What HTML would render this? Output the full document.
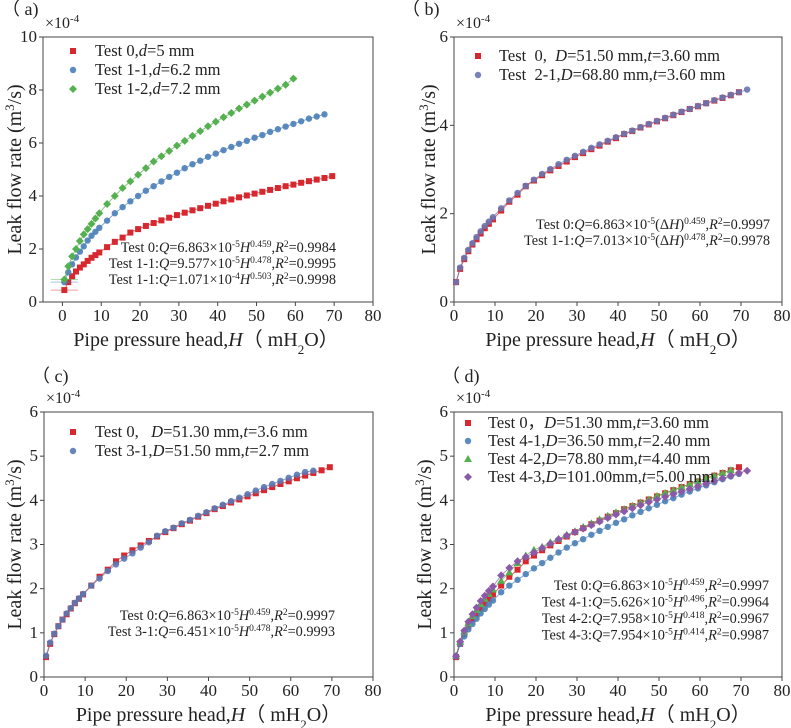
<!DOCTYPE html>
<html><head><meta charset="utf-8">
<style>
html,body{margin:0;padding:0;background:#fff;}
svg{display:block;font-family:"Liberation Serif",serif;}
</style></head>
<body>
<svg id="fig" width="791" height="728" viewBox="0 0 791 728" xmlns="http://www.w3.org/2000/svg"></svg>
<script>
// ---- data (values in units of 1e-4 m^3/s) ----
const H40 = [0.5,1.5,2.5,3.5,4.5,5.5,6.5,7.5,8.5,9.5,11.5,13.5,15.5,17.5,19.5,21.5,23.5,25.5,27.5,29.5,31.5,33.5,35.5,37.5,39.5,41.5,43.5,45.5,47.5,49.5,51.5,53.5,55.5,57.5,59.5,61.5,63.5,65.5,67.5,69.5];
const H39 = [0.5,1.5,2.5,3.5,4.5,5.5,6.5,7.5,8.5,9.5,11.5,13.5,15.5,17.5,19.5,21.5,23.5,25.5,27.5,29.5,31.5,33.5,35.5,37.5,39.5,41.5,43.5,45.5,47.5,49.5,51.5,53.5,55.5,57.5,59.5,61.5,63.5,65.5,67.5];
const H38 = [0.5,1.5,2.5,3.5,4.5,5.5,6.5,7.5,8.5,9.5,11.5,13.5,15.5,17.5,19.5,21.5,23.5,25.5,27.5,29.5,31.5,33.5,35.5,37.5,39.5,41.5,43.5,45.5,47.5,49.5,51.5,53.5,55.5,57.5,59.5,61.5,63.5,65.5];
const H35 = [0.5,1.5,2.5,3.5,4.5,5.5,6.5,7.5,8.5,9.5,11.5,13.5,15.5,17.5,19.5,21.5,23.5,25.5,27.5,29.5,31.5,33.5,35.5,37.5,39.5,41.5,43.5,45.5,47.5,49.5,51.5,53.5,55.5,57.5,59.5];
const H41 = [0.5,1.5,2.5,3.5,4.5,5.5,6.5,7.5,8.5,9.5,11.5,13.5,15.5,17.5,19.5,21.5,23.5,25.5,27.5,29.5,31.5,33.5,35.5,37.5,39.5,41.5,43.5,45.5,47.5,49.5,51.5,53.5,55.5,57.5,59.5,61.5,63.5,65.5,67.5,69.5,71.5];
const test0 = [0.45,0.75,0.97,1.15,1.3,1.42,1.55,1.67,1.77,1.87,2.07,2.27,2.43,2.62,2.75,2.87,2.98,3.08,3.18,3.28,3.37,3.46,3.54,3.63,3.71,3.8,3.87,3.95,4.02,4.09,4.16,4.23,4.3,4.37,4.43,4.5,4.56,4.62,4.68,4.75];
const test1_1 = [0.75,1.12,1.42,1.68,1.9,2.1,2.32,2.5,2.65,2.8,3.07,3.35,3.58,3.8,4.0,4.2,4.37,4.55,4.72,4.88,5.05,5.2,5.33,5.48,5.6,5.73,5.85,5.97,6.08,6.2,6.3,6.42,6.52,6.62,6.72,6.82,6.92,7.0,7.08];
const test1_2 = [0.85,1.35,1.72,2.0,2.3,2.55,2.75,2.95,3.15,3.35,3.7,4.0,4.3,4.55,4.8,5.05,5.3,5.5,5.7,5.9,6.08,6.27,6.45,6.63,6.8,6.97,7.13,7.3,7.45,7.6,7.75,7.9,8.05,8.2,8.43];
const test2_1 = [0.45,0.78,1.0,1.18,1.33,1.47,1.6,1.72,1.82,1.92,2.12,2.3,2.47,2.63,2.77,2.9,3.01,3.12,3.22,3.31,3.4,3.49,3.57,3.65,3.73,3.81,3.88,3.96,4.03,4.1,4.17,4.24,4.31,4.37,4.44,4.5,4.57,4.63,4.69,4.75,4.81];
const test3_1 = [0.48,0.78,0.98,1.15,1.3,1.44,1.56,1.68,1.78,1.88,2.07,2.23,2.4,2.55,2.68,2.8,2.93,3.05,3.2,3.3,3.38,3.48,3.56,3.65,3.73,3.82,3.9,3.98,4.06,4.14,4.22,4.3,4.37,4.44,4.51,4.58,4.64,4.67];
const test4_1 = [0.47,0.75,0.92,1.08,1.2,1.32,1.44,1.54,1.64,1.73,1.92,2.07,2.2,2.33,2.46,2.58,2.7,2.82,2.93,3.03,3.12,3.22,3.31,3.4,3.49,3.57,3.66,3.74,3.82,3.9,3.98,4.05,4.13,4.2,4.27,4.34,4.41,4.48,4.54,4.6];
const test4_2 = [0.48,0.8,1.03,1.22,1.38,1.52,1.65,1.77,1.88,1.98,2.18,2.37,2.58,2.75,2.88,2.95,3.05,3.13,3.22,3.3,3.4,3.48,3.57,3.65,3.73,3.8,3.88,3.95,4.02,4.1,4.17,4.23,4.3,4.37,4.43,4.5,4.56,4.62,4.68];
const test4_3 = [0.47,0.8,1.05,1.25,1.42,1.57,1.72,1.84,1.95,2.05,2.3,2.47,2.62,2.72,2.82,2.92,3.02,3.12,3.2,3.28,3.36,3.44,3.52,3.6,3.68,3.75,3.82,3.89,3.96,4.02,4.08,4.14,4.2,4.26,4.32,4.38,4.44,4.5,4.56,4.62,4.67];
const xTicksA = [0,10,20,30,40,50,60,70,80];
const yTicksA = [0,2,4,6,8,10];
const xTicks = [0,10,20,30,40,50,60,70,80];
const yTicks6 = [0,2,4,6];
const yTicks6b = [0,1,2,3,4,5,6];

const RED="#d6282e", BLUE="#4a80b8", GREEN="#55b04f", PURPLE="#8a5aa8";
const NS="http://www.w3.org/2000/svg";
const svg=document.getElementById('fig');
function mk(tag,attrs,parent){const e=document.createElementNS(NS,tag);for(const k in attrs)e.setAttribute(k,attrs[k]);(parent||svg).appendChild(e);return e;}

function marker(g,shape,cx,cy,color){
  let m;
  if(shape==='sq') m=mk('rect',{x:cx-3,y:cy-3,width:6,height:6,fill:color},g);
  else if(shape==='ci') m=mk('circle',{cx:cx,cy:cy,r:3.2,fill:color,'fill-opacity':0.9},g);
  else if(shape==='di') m=mk('polygon',{points:`${cx},${cy-4} ${cx+4},${cy} ${cx},${cy+4} ${cx-4},${cy}`,fill:color},g);
  else m=mk('polygon',{points:`${cx},${cy-4} ${cx+4},${cy+3} ${cx-4},${cy+3}`,fill:color},g);
  return m;
}

function eqText(g,x,y,parts){
  const t=mk('text',{x:x,y:y,'text-anchor':'end','font-size':14.3,fill:'#222'},g);
  
  
  parts.forEach(p=>{
    const s=mk('tspan',{},t);
    if(p.i) s.setAttribute('font-style','italic');
    if(p.sup){s.setAttribute('baseline-shift','super');s.setAttribute('font-size',9.5);}
    s.textContent=p.t;
  });
}

function panel(cfg){
  const g=mk('g',{});
  
  
  const L=cfg.L,R=cfg.R,T=cfg.T,B=cfg.B;
  const sx=v=>L+(v-cfg.xmin)/(cfg.xmax-cfg.xmin)*(R-L);
  const sy=v=>B-(v-0)/(cfg.ymax)*(B-T);
  const frame=mk('rect',{x:L,y:T,width:R-L,height:B-T,fill:'none',stroke:'#444','stroke-width':1},g);
  
  
  cfg.xt.forEach(v=>{
    mk('line',{x1:sx(v),x2:sx(v),y1:B,y2:B+4,stroke:'#444'},g);
    const t=mk('text',{x:sx(v),y:B+19,'text-anchor':'middle','font-size':17,fill:'#222'},g);
    
    
    t.textContent=v;
  });
  cfg.yt.forEach(v=>{
    mk('line',{x1:L-4,x2:L,y1:sy(v),y2:sy(v),stroke:'#444'},g);
    const t=mk('text',{x:L-6,y:sy(v)+5,'text-anchor':'end','font-size':17,fill:'#222'},g);
    
    
    t.textContent=v;
  });
  const mt=mk('text',{x:L+2,y:T-9,'font-size':16,fill:'#222'},g);
  
  
  mt.innerHTML='×10<tspan baseline-shift="super" font-size="11">-4</tspan>';
  const pl=mk('text',{x:cfg.plx,y:cfg.ply,'font-size':18,fill:'#222'},g);
  
  
  pl.textContent=cfg.label;
  const xt=mk('text',{x:(L+R)/2+(cfg.xmin<0?-2:0),y:B+44,'text-anchor':'middle','font-size':20,fill:'#222'},g);
  
  
  xt.innerHTML='Pipe pressure head,<tspan font-style="italic">H</tspan>（ mH<tspan baseline-shift="sub" font-size="13">2</tspan>O）';
  const cy=(T+B)/2;
  const yt=mk('text',{x:cfg.ytx,y:cy,'text-anchor':'middle','font-size':20,fill:'#222',transform:`rotate(-90 ${cfg.ytx} ${cy})`},g);
  
  
  yt.innerHTML='Leak flow rate (m<tspan baseline-shift="super" font-size="13">3</tspan>/s)';
  cfg.series.forEach(s=>{
    const sg=mk('g',{},g);
    
    
    if(s.err){
      const eb=mk('line',{x1:sx(s.x[0]-3.5),x2:sx(s.x[0]+3.5),y1:sy(s.y[0]),y2:sy(s.y[0]),stroke:s.c,'stroke-opacity':0.45,'stroke-width':1},sg);
      
      
    }
    const pts=s.x.map((h,i)=>sx(h).toFixed(1)+','+sy(s.y[i]).toFixed(1)).join(' ');
    const pl=mk('polyline',{points:pts,fill:'none',stroke:s.c,'stroke-width':1,'stroke-opacity':0.7},sg);
    
    
    s.x.forEach((h,i)=>{
      const m=marker(sg,s.m,sx(h),sy(s.y[i]),s.c);
      
      
    });
  });
  const lg=mk('g',{},g);
  
  
  cfg.series.forEach((s,i)=>{
    const y=cfg.lgy+i*cfg.lgdy;
    const e=mk('g',{},lg);
    
    
    marker(e,s.m,cfg.lgx,y,s.c);
    const t=mk('text',{x:cfg.lgx+cfg.lgt,y:y+5,'font-size':16.5,fill:'#222'},e);
    t.innerHTML=s.label;
  });
  cfg.eqs.forEach((parts,i)=>eqText(g,cfg.eqx,cfg.eqy+i*cfg.eqdy,parts));
}

const I=t=>({t:t,i:true}), N=t=>({t:t}), S=t=>({t:t,sup:true});
function eqH(name,c,e,r){return [N(name+':'),I('Q'),N('='+c+'×10'),S(e),I('H'),S(r[0]),N(','),I('R'),S('2'),N('='+r[1])];}
function eqDH(name,c,e,r){return [N(name+':'),I('Q'),N('='+c+'×10'),S(e),N('(Δ'),I('H'),N(')'),S(r[0]),N(','),I('R'),S('2'),N('='+r[1])];}

panel({name:'panel-a',label:'（ a)',plx:2,ply:15,L:43,R:373,T:37,B:302,xmin:-5,xmax:80,ymax:10,xt:xTicksA,yt:yTicksA,ytx:21,
  series:[
    {name:'series-test-0',x:H40,y:test0,c:RED,m:'sq',err:true,label:'Test 0,<tspan font-style="italic">d</tspan>=5 mm'},
    {name:'series-test-1-1',x:H39,y:test1_1,c:BLUE,m:'ci',err:true,label:'Test 1-1,<tspan font-style="italic">d</tspan>=6.2 mm'},
    {name:'series-test-1-2',x:H35,y:test1_2,c:GREEN,m:'di',err:true,label:'Test 1-2,<tspan font-style="italic">d</tspan>=7.2 mm'}],
  lgx:73,lgy:51,lgdy:19,lgt:22,
  eqs:[eqH('Test 0','6.863','-5',['0.459','0.9984']),eqH('Test 1-1','9.577','-5',['0.478','0.9995']),eqH('Test 1-1','1.071','-4',['0.503','0.9998'])],
  eqx:336,eqy:252,eqdy:16});

panel({name:'panel-b',label:'（ b)',plx:402,ply:15,L:454,R:782,T:37,B:302,xmin:0,xmax:80,ymax:6,xt:xTicks,yt:yTicks6,ytx:435,
  series:[
    {name:'series-test-0',x:H40,y:test0,c:RED,m:'sq',label:'Test&#160; 0,&#160; <tspan font-style="italic">D</tspan>=51.50 mm,<tspan font-style="italic">t</tspan>=3.60 mm'},
    {name:'series-test-2-1',x:H41,y:test2_1,c:'#6a74b0',m:'ci',label:'Test&#160; 2-1,<tspan font-style="italic">D</tspan>=68.80 mm,<tspan font-style="italic">t</tspan>=3.60 mm'}],
  lgx:478,lgy:56,lgdy:19,lgt:21,
  eqs:[eqDH('Test 0','6.863','-5',['0.459','0.9997']),eqDH('Test 1-1','7.013','-5',['0.478','0.9978'])],
  eqx:770,eqy:229,eqdy:16});

panel({name:'panel-c',label:'（ c)',plx:32,ply:382,L:44,R:373,T:412,B:677,xmin:0,xmax:80,ymax:6,xt:xTicks,yt:yTicks6b,ytx:21,
  series:[
    {name:'series-test-0',x:H40,y:test0,c:RED,m:'sq',label:'Test 0,&#160;&#160; <tspan font-style="italic">D</tspan>=51.30 mm,<tspan font-style="italic">t</tspan>=3.6 mm'},
    {name:'series-test-3-1',x:H38,y:test3_1,c:'#5a78b4',m:'ci',label:'Test 3-1,<tspan font-style="italic">D</tspan>=51.50 mm,<tspan font-style="italic">t</tspan>=2.7 mm'}],
  lgx:73,lgy:432,lgdy:19,lgt:22,
  eqs:[eqH('Test 0','6.863','-5',['0.459','0.9997']),eqH('Test 3-1','6.451','-5',['0.478','0.9993'])],
  eqx:335,eqy:620,eqdy:16});

panel({name:'panel-d',label:'（ d)',plx:442,ply:382,L:454,R:782,T:412,B:677,xmin:0,xmax:80,ymax:6,xt:xTicks,yt:yTicks6b,ytx:431,
  series:[
    {name:'series-test-0',x:H40,y:test0,c:RED,m:'sq',label:'Test 0，<tspan font-style="italic">D</tspan>=51.30 mm,<tspan font-style="italic">t</tspan>=3.60 mm'},
    {name:'series-test-4-1',x:H40,y:test4_1,c:BLUE,m:'ci',label:'Test 4-1,<tspan font-style="italic">D</tspan>=36.50 mm,<tspan font-style="italic">t</tspan>=2.40 mm'},
    {name:'series-test-4-2',x:H39,y:test4_2,c:GREEN,m:'tr',label:'Test 4-2,<tspan font-style="italic">D</tspan>=78.80 mm,<tspan font-style="italic">t</tspan>=4.40 mm'},
    {name:'series-test-4-3',x:H41,y:test4_3,c:PURPLE,m:'di',label:'Test 4-3,<tspan font-style="italic">D</tspan>=101.00mm,<tspan font-style="italic">t</tspan>=5.00 mm'}],
  lgx:468,lgy:423,lgdy:18,lgt:20,
  eqs:[eqH('Test 0','6.863','-5',['0.459','0.9997']),eqH('Test 4-1','5.626','-5',['0.496','0.9964']),eqH('Test 4-2','7.958','-5',['0.418','0.9967']),eqH('Test 4-3','7.954','-5',['0.414','0.9987'])],
  eqx:769,eqy:590,eqdy:16.5});
</script>
</body></html>
